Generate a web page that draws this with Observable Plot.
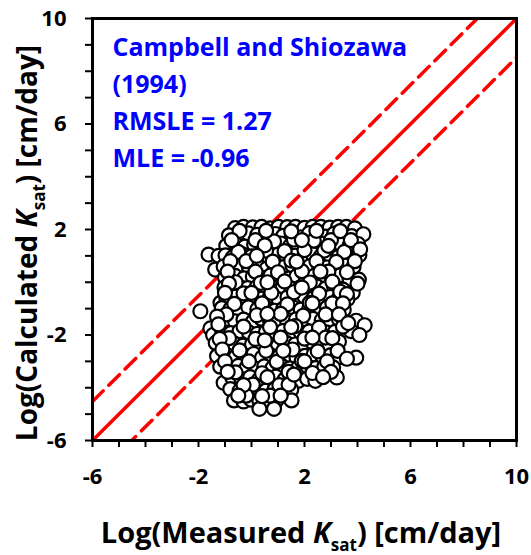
<!DOCTYPE html>
<html><head><meta charset="utf-8">
<script src="https://cdn.jsdelivr.net/npm/d3@7"></script>
<script src="https://cdn.jsdelivr.net/npm/@observablehq/plot@0.6"></script>
<style>body{margin:0;background:#fff} svg{display:block}</style>
</head><body><div id="chart"></div>
<script>
// Log(Measured Ksat) values, row by row (top of cloud to bottom), then fillers
const measured = [
  -0.62,-0.30,0.05,0.38,0.70,1.02,1.35,1.66,2.00,2.31,2.62,2.95,3.27,3.58,3.90,
  -0.85,-0.45,-0.12,0.22,0.55,0.90,1.20,1.52,1.85,2.18,2.50,2.80,3.12,3.45,3.78,4.22,
  -0.95,-0.60,-0.25,0.10,0.42,0.78,1.10,1.45,1.75,2.08,2.42,2.70,3.05,3.38,3.70,4.02,
  -1.62,-1.24,-1.37,
  -0.98,-0.70,-0.35,0.00,0.35,0.66,1.00,1.32,1.65,1.98,2.30,2.62,2.95,3.28,3.60,4.07,
  -1.05,-0.78,-0.45,-0.10,0.25,0.58,0.90,1.22,1.55,1.88,2.20,2.55,2.85,3.18,3.52,3.85,
  -1.00,-0.62,-0.28,0.05,0.40,0.72,1.05,1.40,1.70,2.05,2.38,2.70,3.02,3.35,3.70,4.05,
  -1.02,-0.82,-0.48,-0.15,0.20,0.52,0.86,1.18,1.50,1.84,2.15,2.48,2.80,3.12,3.45,3.82,
  -1.17,-0.95,-0.60,-0.30,0.05,0.38,0.70,1.03,1.36,1.68,2.00,2.33,2.65,2.98,3.30,3.62,
  -1.93,-1.12,-0.80,-0.45,-0.12,0.22,0.55,0.88,1.20,1.54,1.86,2.18,2.50,2.85,3.15,3.48,
  -1.55,-1.20,-0.95,-0.62,-0.30,0.05,0.37,0.70,1.02,1.35,1.68,2.00,2.32,2.65,2.98,3.30,3.95,4.27,
  -1.45,-1.10,-0.78,-0.45,-0.10,0.22,0.55,0.88,1.20,1.52,1.85,2.18,2.50,2.82,3.15,3.75,4.07,
  -1.35,-1.00,-0.65,-0.32,0.02,0.35,0.68,1.00,1.33,1.65,1.98,2.30,2.62,2.95,3.30,
  -1.30,-0.95,-0.60,-0.28,0.08,0.40,0.72,1.05,1.38,1.70,2.02,2.35,2.68,3.00,3.30,3.95,
  -1.18,-0.85,-0.50,-0.18,0.15,0.48,0.80,1.12,1.45,1.78,2.10,2.42,2.75,3.08,
  -1.05,-0.72,-0.38,-0.05,0.28,0.60,0.92,1.25,1.58,1.77,2.10,2.41,3.22,
  -0.80,-0.45,-0.12,0.22,0.55,0.88,1.20,1.50,
  -0.66,-0.30,-0.02,0.30,0.62,0.95,1.51,
  0.30,0.85,
  0.15,0.85,1.60,2.35,3.00,-0.50,0.55,1.25,2.00,2.75,3.50,-0.20,0.80,1.50,2.45,3.20,
  0.15,1.00,1.90,2.90,-0.60,0.35,1.25,2.20,3.05,-0.30,0.75,1.60,2.55,3.35,
  -0.65,0.40,1.35,2.20,3.05,-0.95,0.20,1.10,1.95,2.80,-0.30,0.70,1.65,2.55,3.45,
  -0.85,0.15,1.10,2.00,2.80,-0.45,0.55,1.55,2.50,-0.10,0.95,1.90,2.85,
  -0.60,0.40,1.40,2.30,0.05,1.05,0.70,-0.20,
  -0.45,0.55,1.50,2.45,3.35,-0.75,3.75,4.10,-0.80,3.90,-0.90,3.60,4.00,-0.85,3.60,-1.00,3.45,
  -1.30,3.30,-1.25,3.65,-1.20,3.05,-1.10,3.25,3.60,-1.00,3.00,-0.90,2.70,-0.30,1.40,0.40,1.10,-0.50,
  0.50,1.90,2.90,0.20,1.70,2.60,0.60,1.90,0.00,2.30,0.60,1.50,2.30,0.50,1.20,2.00,0.60,1.60
];
// Log(Calculated Ksat) values, same order
const calculated = [
  2.05,2.10,2.08,2.10,2.04,2.10,2.09,2.10,2.06,2.10,2.10,2.07,2.10,2.10,2.04,
  1.78,1.74,1.85,1.80,1.72,1.83,1.76,1.81,1.70,1.86,1.78,1.73,1.84,1.79,1.75,1.82,
  1.38,1.45,1.35,1.42,1.40,1.33,1.47,1.37,1.44,1.36,1.41,1.46,1.34,1.43,1.39,1.45,
  1.05,1.00,0.48,
  1.02,0.95,1.06,0.98,1.03,0.94,1.05,0.97,1.01,0.93,1.07,0.99,1.04,0.96,1.00,1.03,
  0.60,0.55,0.65,0.58,0.62,0.52,0.66,0.57,0.63,0.54,0.61,0.67,0.56,0.60,0.64,0.58,
  0.18,0.24,0.15,0.22,0.17,0.26,0.20,0.14,0.23,0.19,0.25,0.16,0.21,0.27,0.13,0.10,
  -0.20,-0.25,-0.16,-0.22,-0.18,-0.27,-0.21,-0.15,-0.24,-0.19,-0.26,-0.17,-0.23,-0.20,-0.28,-0.40,
  -0.78,-0.60,-0.55,-0.65,-0.58,-0.62,-0.53,-0.66,-0.57,-0.63,-0.54,-0.61,-0.67,-0.56,-0.60,-0.64,
  -1.10,-0.98,-1.02,-1.06,-0.95,-1.03,-0.97,-1.08,-1.00,-0.94,-1.04,-0.99,-1.07,-0.96,-1.01,-1.05,
  -1.75,-1.45,-1.40,-1.48,-1.42,-1.50,-1.38,-1.46,-1.43,-1.52,-1.41,-1.47,-1.39,-1.44,-1.51,-1.40,-1.46,-1.63,
  -2.00,-1.88,-1.93,-1.85,-1.90,-1.96,-1.87,-1.92,-1.84,-1.95,-1.89,-1.86,-1.94,-1.90,-1.88,-1.85,-2.00,
  -2.30,-2.38,-2.33,-2.40,-2.35,-2.29,-2.37,-2.42,-2.31,-2.36,-2.40,-2.28,-2.34,-2.39,-2.25,
  -2.80,-2.75,-2.83,-2.78,-2.72,-2.85,-2.77,-2.81,-2.74,-2.86,-2.79,-2.73,-2.82,-2.76,-2.84,-2.86,
  -3.20,-3.25,-3.17,-3.22,-3.28,-3.19,-3.24,-3.16,-3.27,-3.21,-3.18,-3.26,-3.20,-3.23,
  -3.81,-3.62,-3.67,-3.60,-3.70,-3.64,-3.58,-3.69,-3.63,-3.74,-3.66,-3.74,-3.61,
  -4.05,-4.12,-4.08,-4.15,-4.10,-4.04,-4.13,-4.07,
  -4.48,-4.52,-4.45,-4.50,-4.55,-4.47,-4.48,
  -4.80,-4.80,
  1.60,1.55,1.62,1.58,1.60,1.15,1.20,1.18,1.22,1.20,1.15,0.80,0.78,0.82,0.80,0.77,
  0.40,0.38,0.42,0.40,0.00,-0.02,0.03,-0.01,0.02,-0.42,-0.40,-0.38,-0.43,-0.36,
  -0.82,-0.80,-0.84,-0.78,-0.80,-1.22,-1.25,-1.20,-1.27,-1.22,-1.68,-1.70,-1.66,-1.72,-1.68,
  -2.12,-2.15,-2.10,-2.14,-2.10,-2.58,-2.60,-2.55,-2.62,-3.00,-3.02,-2.98,-3.00,
  -3.42,-3.45,-3.40,-3.44,-3.88,-3.90,-4.30,-4.30,
  1.95,1.95,1.93,1.95,1.94,1.60,1.60,1.25,0.80,0.80,0.40,0.38,-0.05,-0.05,-0.45,-0.40,-0.80,
  -1.30,-1.22,-1.60,-1.55,-2.15,-2.12,-2.55,-2.60,-2.90,-3.00,-3.40,-3.40,-3.60,-3.90,-3.88,-4.32,-4.30,-4.30,
  1.40,1.60,1.38,1.00,0.78,0.40,0.00,-0.20,-0.40,-0.80,-1.20,-1.70,-2.10,-2.20,-2.60,-3.00,-3.60,-3.50
];
const axisDomain = [-6, 10];
const majorTicks = [-6, -2, 2, 6, 10];
const minorTicks = [-6, -5, -4, -3, -2, -1, 0, 1, 2, 3, 4, 5, 6, 7, 8, 9, 10];
const bandOffset = 1.48;
const annotation = ["Campbell and Shiozawa", "(1994)", "RMSLE = 1.27", "MLE = -0.96"];

const points = measured.map((m, i) => ({m, c: calculated[i]}));
const oneToOne = axisDomain.map(v => [v, v]);
const upper = axisDomain.map(v => [v, v + bandOffset]);
const lower = axisDomain.map(v => [v, v - bandOffset]);

const FONT = "Open Sans";
const plot = Plot.plot({
  width: 531, height: 555,
  marginLeft: 92, marginRight: 15, marginTop: 18, marginBottom: 115,
  x: {domain: axisDomain},
  y: {domain: axisDomain},
  style: {fontFamily: FONT, fontWeight: "bold", background: "white", color: "black"},
  marks: [
    Plot.axisX({ticks: minorTicks, tickSize: 7, tickFormat: () => "", label: null, strokeWidth: 2}),
    Plot.axisX({ticks: majorTicks, tickSize: 0, tickPadding: 28, fontSize: 22, label: null, tickFormat: d => String(d)}),
    Plot.axisY({ticks: minorTicks, tickSize: 7, tickFormat: () => "", label: null, strokeWidth: 2}),
    Plot.axisY({ticks: majorTicks, tickSize: 0, tickPadding: 26, fontSize: 22, label: null, tickFormat: d => String(d)}),
    Plot.line(upper, {stroke: "#ff0000", strokeWidth: 3.5, strokeDasharray: "15,8", clip: true}),
    Plot.line(lower, {stroke: "#ff0000", strokeWidth: 3.5, strokeDasharray: "15,8", clip: true}),
    Plot.line(oneToOne, {stroke: "#ff0000", strokeWidth: 3.5, clip: true}),
    Plot.dot(points, {x: "m", y: "c", r: 7, fill: "white", stroke: "black", strokeWidth: 2.2}),
    Plot.frame({stroke: "black", strokeWidth: 3}),
    Plot.text([annotation.join("\n")], {frameAnchor: "top-left", textAnchor: "start", lineAnchor: "top",
      dx: 20, dy: 11, fill: "#0000ff", fontSize: 25, lineHeight: 1.48})
  ]
});
document.getElementById("chart").appendChild(plot);

const svg = d3.select(plot);
function title(g, pre) {
  g.append("tspan").text(pre);
  g.append("tspan").attr("font-style", "italic").text("K");
  g.append("tspan").attr("font-size", 17).attr("dy", 8).text("sat");
  g.append("tspan").attr("dy", -8).text(") [cm/day]");
}
const xt = svg.append("text").attr("x", 301).attr("y", 543).attr("text-anchor", "middle")
  .attr("font-family", FONT).attr("font-weight", "bold").attr("font-size", 29).attr("fill", "black");
title(xt, "Log(Measured ");
const yt = svg.append("text").attr("transform", "translate(37,243) rotate(-90)").attr("text-anchor", "middle")
  .attr("font-family", FONT).attr("font-weight", "bold").attr("font-size", 28).attr("fill", "black");
title(yt, "Log(Calculated ");
</script></body></html>
